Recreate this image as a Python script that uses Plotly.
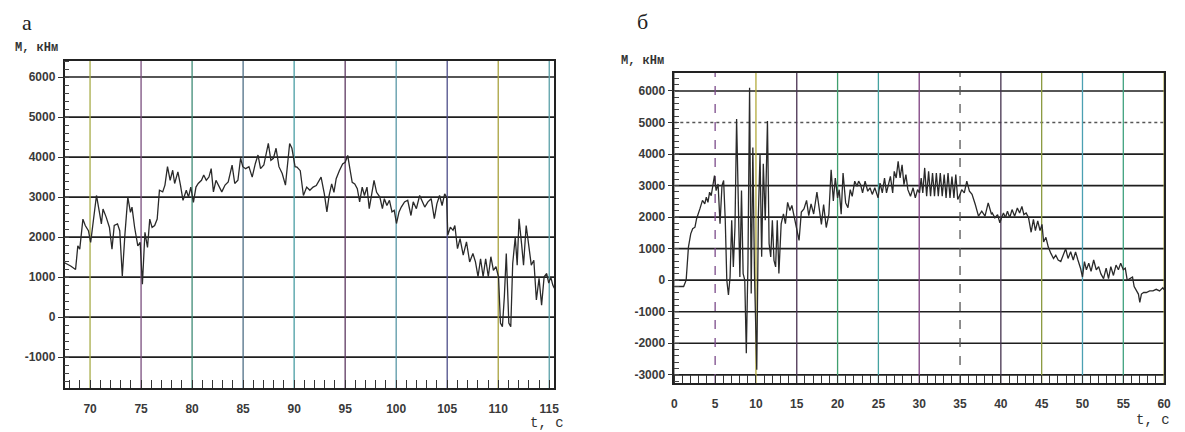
import plotly.graph_objects as go

# ---------------- data: chart "а" ----------------
t_a = [67.5, 68.10, 68.58, 68.80, 68.99, 69.30, 69.53, 69.84, 70.06, 70.32, 70.63, 70.89, 71.11, 71.27,
       71.58, 71.90, 72.15, 72.37, 72.69, 72.91, 73.16, 73.42, 73.70, 73.96, 74.11, 74.37, 74.68,
       74.91, 75.13, 75.38, 75.63, 75.85, 76.08, 76.33, 76.58, 76.80, 77.12, 77.34, 77.59, 77.85,
       78.10, 78.29, 78.61, 78.86, 79.11, 79.43, 79.65, 79.87, 80.13, 80.38, 80.60, 80.92, 81.14,
       81.39, 81.65, 81.87, 82.09, 82.34, 82.59, 82.91, 83.23, 83.54, 83.92, 84.18, 84.49, 84.75,
       84.97, 85.25, 85.57, 85.89, 86.20, 86.46, 86.71, 87.03, 87.47, 87.72, 87.97, 88.23, 88.51,
       88.83, 89.15, 89.56, 89.78, 90.09, 90.28, 90.60, 90.91, 91.23, 91.54, 91.86, 92.17, 92.48,
       92.64, 92.96, 93.21, 93.43, 93.68, 93.90, 94.12, 94.43, 94.75, 95.00, 95.25, 95.47, 95.69,
       95.94, 96.19, 96.42, 96.67, 96.89, 97.14, 97.36, 97.58, 97.83, 98.08, 98.40, 98.65, 98.84,
       99.09, 99.34, 99.59, 99.81, 100.03, 100.28, 100.50, 100.82, 101.13, 101.45, 101.67, 101.98,
       102.30, 102.55, 102.80, 103.11, 103.43, 103.74, 103.99, 104.25, 104.50, 104.75, 104.94,
       105.06, 105.31, 105.57, 105.75, 106.01, 106.26, 106.57, 106.89, 107.20, 107.52, 107.77,
       108.02, 108.27, 108.52, 108.77, 109.03, 109.28, 109.53, 109.78, 110.03, 110.22, 110.41,
       110.60, 110.79, 111.04, 111.23, 111.42, 111.67, 111.86, 112.04, 112.30, 112.48, 112.74,
       112.99, 113.24, 113.49, 113.74, 114.00, 114.25, 114.50, 114.75, 114.95, 115.15, 115.35, 115.5]
m_a = [1360, 1280, 1190, 1780, 1700, 2450, 2290, 2160, 1870, 2410, 3040, 2660, 2330, 2700,
       2500, 2240, 1700, 2290, 2330, 2160, 1030, 2080, 3000, 2620, 2750, 2240, 1780,
       1870, 820, 2120, 1740, 2450, 2240, 2290, 2450, 3170, 3130, 3300, 3760, 3420,
       3670, 3340, 3630, 3300, 2920, 3170, 3000, 3250, 2870, 3250, 3340, 3420, 3550,
       3420, 3500, 3710, 3130, 3420, 3300, 3130, 3300, 3380, 3800, 3340, 3420, 3970,
       3760, 3710, 3760, 3500, 3840, 4050, 3710, 3800, 4340, 3920, 3970, 4220, 3760,
       3590, 3300, 4340, 4220, 3760, 3750, 3660, 3040, 3250, 3170, 3250, 3290, 3420,
       3500, 3080, 2630, 3040, 3330, 3120, 3460, 3660, 3830, 3870, 4040, 3700, 3370,
       3330, 3210, 2880, 3250, 3040, 3250, 2710, 3080, 3420, 3120, 3000, 2710, 2960,
       2790, 2920, 2630, 2670, 2340, 2630, 2750, 2880, 2920, 2540, 2880, 2710,
       3040, 2880, 2750, 2880, 2960, 2460, 2830, 3040, 2790, 3080, 3000,
       2050, 2250, 2170, 2290, 1710, 1960, 1550, 1880, 1380, 1590, 1380,
       1010, 1460, 1010, 1460, 1010, 1510, 1170, 1260, 1010, -150, -240,
       510, 1590, -150, -240, 1340, 2000, 1300, 2460, 1800, 1300, 2290,
       1840, 1300, 1420, 430, 970, 300, 1010, 1090, 850, 1000, 800, 720]

# ---------------- data: chart "б" ----------------
t_b = [0.0, 1.14, 1.45, 1.73, 2.01, 2.25, 2.53, 2.73, 3.13, 3.45, 3.73, 3.92, 4.12, 4.32, 4.52,
       4.72, 4.92, 5.12, 5.36, 5.60, 5.84, 6.04, 6.24, 6.43, 6.63, 6.83, 7.03, 7.23, 7.43,
       7.63, 7.83, 8.03, 8.23, 8.43, 8.63, 8.82, 9.02, 9.22, 9.42, 9.62, 9.82, 10.10, 10.30,
       10.50, 10.70, 10.90, 11.14, 11.41, 11.61, 11.81, 12.01, 12.21, 12.41, 12.61, 12.81,
       13.09, 13.37, 13.61, 13.88, 14.16, 14.40, 14.68, 15.00, 15.28, 15.56, 15.88, 16.20,
       16.47, 16.75, 17.07, 17.47, 17.75, 18.02, 18.29, 18.61, 18.93, 19.21, 19.48, 19.72,
       20.00, 20.20, 20.44, 20.67, 20.99, 21.27, 21.55, 21.79, 22.10, 22.38, 22.58, 22.82,
       23.06, 23.37, 23.69, 23.97, 24.25, 24.56, 24.96, 25.20, 25.48, 25.75, 25.99, 26.23,
       26.47, 26.75, 26.94, 27.18, 27.42, 27.66, 27.90, 28.13, 28.37, 28.61, 28.93, 29.25,
       29.52, 29.80, 30.04, 30.24, 30.44, 30.67, 30.91, 31.15, 31.39, 31.63, 31.87, 32.10,
       32.34, 32.58, 32.82, 33.06, 33.29, 33.53, 33.77, 34.01, 34.25, 34.48, 34.72, 35.00,
       35.20, 35.52, 35.83, 36.15, 36.47, 36.87, 37.26, 37.66, 38.06, 38.45, 38.85, 38.95,
       39.27, 39.60, 39.88, 40.08, 40.32, 40.56, 40.81, 41.09, 41.37, 41.69, 42.02, 42.30,
       42.58, 42.82, 43.10, 43.39, 43.71, 43.99, 44.23, 44.52, 44.80, 45.04, 45.24, 45.52,
       45.81, 46.13, 46.45, 46.73, 47.02, 47.34, 47.66, 47.94, 48.23, 48.55, 48.87, 49.15,
       49.44, 49.76, 50.00, 50.24, 50.48, 50.77, 51.05, 51.37, 51.69, 51.98, 52.26, 52.58,
       52.90, 53.19, 53.47, 53.79, 54.11, 54.40, 54.68, 55.00, 55.24, 55.48, 55.81, 56.13,
       56.33, 56.61, 56.85, 57.02, 57.22, 57.50, 57.82, 58.23, 58.63, 59.03, 59.44, 59.84, 60.0]
m_b = [-200, -200, 0, 1050, 1470, 1630, 1680, 1950, 2260, 2530, 2420, 2630, 2470, 2790, 2680,
       3050, 3320, 2840, 3050, 1790, 3000, 3160, 1900, 0, -470, 100, 1900, 420, 1680,
       5110, 1900, 100, 2840, 210, 0, -2320, 530, 6100, -420, 4210, 210, -2840, 2100,
       4000, 740, 3690, 1900, 5050, 1160, 740, 1900, 630, 420, 1900, 210,
       1790, 2100, 1790, 2470, 2210, 2370, 2000, 1580, 1260, 2160, 2260, 2530,
       2050, 2420, 2100, 2790, 2320, 1770, 2400, 1670, 2090, 3500, 2510, 3240,
       2610, 2870, 2090, 3400, 2450, 2300, 2870, 2660, 3140, 2980, 3140, 3030,
       2770, 3140, 2820, 2930, 2720, 2930, 2610, 3080, 2770, 3240, 2770, 3080,
       3290, 2770, 3450, 3240, 3770, 3240, 3660, 3030, 3350, 2870, 2660, 2930,
       2610, 2870, 2770, 3240, 2770, 3560, 2660, 3450, 2660, 3400, 2660, 3400,
       2660, 3400, 2660, 3350, 2610, 3400, 2610, 3290, 2610, 3350, 2560, 2720,
       2870, 2770, 3140, 2820, 2720, 2400, 2030, 2190, 2030, 2450, 2090, 2130,
       1980, 2080, 1820, 1980, 2130, 1980, 2190, 1980, 2240, 2030, 2290, 2130,
       2340, 2080, 2130, 1980, 1520, 1930, 1570, 1880, 1570, 1770, 1210, 1360,
       1050, 850, 690, 790, 640, 590, 790, 1000, 690, 900, 640, 900,
       640, 380, 100, 590, 330, 540, 280, 640, 330, 430, 200, 50,
       380, 50, 430, 150, 480, 330, 540, 330, 380, 0, 50, 100,
       -200, -340, -440, -700, -440, -390, -390, -340, -340, -290, -340, -240, -300]

# ---------------- axes / tick labels ----------------
xticks_a = [70, 75, 80, 85, 90, 95, 100, 105, 110, 115]
yticks_a = [-1000, 0, 1000, 2000, 3000, 4000, 5000, 6000]
xticks_b = [0, 5, 10, 15, 20, 25, 30, 35, 40, 45, 50, 55, 60]
yticks_b = [-3000, -2000, -1000, 0, 1000, 2000, 3000, 4000, 5000, 6000]
xrange_a = [67.5, 115.5]
yrange_a = [-1770, 6400]
xrange_b = [0, 60]
yrange_b = [-3260, 6570]

# scanned-look tints for vertical grid lines
vcol_a = ["#a8ad4a", "#7a4f7e", "#3f8c76", "#4f6f86", "#4a9ea4", "#5e3a62", "#5a98a6", "#4f4f8a", "#a9a23e", "#5aa0a8"]
vcol_b = ["#777", "#7c4b8a", "#b3ab3c", "#4a3252", "#3f9f6e", "#44a2a0", "#7e3f80", "#555", "#45334f",
          "#8b9a3f", "#4ba0b2", "#3fa27f", "#aaa344"]
vdash_b = ["solid", "dash", "solid", "solid", "solid", "solid", "solid", "dash", "solid",
           "solid", "solid", "solid", "solid"]

# page body has an 8px margin: figure is sized/positioned to compensate
W, H, OFF = 1177, 424, 8
def px(x):
    return (x - OFF) / W
def py(y):
    return 1 - (y - OFF) / H

fig = go.Figure()

fig.add_trace(go.Scatter(x=t_a, y=m_a, mode="lines", xaxis="x", yaxis="y",
                         line=dict(color="#2a2a2a", width=1.3), showlegend=False, hoverinfo="skip"))
fig.add_trace(go.Scatter(x=t_b, y=m_b, mode="lines", xaxis="x2", yaxis="y2",
                         line=dict(color="#2a2a2a", width=1.3), showlegend=False, hoverinfo="skip"))

shapes = []
for v in yticks_a:
    shapes.append(dict(type="line", xref="x domain", yref="y", x0=0, x1=1, y0=v, y1=v,
                       line=dict(color="#1e1e1e", width=1.7), layer="below"))
for v, c in zip(xticks_a, vcol_a):
    shapes.append(dict(type="line", xref="x", yref="y domain", x0=v, x1=v, y0=0, y1=1,
                       line=dict(color=c, width=1.3), layer="below"))
for v in yticks_b:
    dotted = (v == 5000)
    shapes.append(dict(type="line", xref="x2 domain", yref="y2", x0=0, x1=1, y0=v, y1=v,
                       line=dict(color="#555" if dotted else "#1e1e1e", width=1.3 if dotted else 1.7,
                                 dash="dot" if dotted else "solid"), layer="below"))
for v, c, d in zip(xticks_b, vcol_b, vdash_b):
    shapes.append(dict(type="line", xref="x2", yref="y2 domain", x0=v, x1=v, y0=0, y1=1,
                       line=dict(color=c, width=1.3, dash=d), layer="below"))

tickfont = dict(family="Liberation Sans, Arial, sans-serif", size=12, color="#3a3a3a", weight="bold")

def xaxis_cfg(domain, rng, ticks, anchor):
    return dict(domain=domain, range=rng, tickvals=ticks, ticktext=[str(t) for t in ticks],
                showgrid=False, zeroline=False, showline=True, linecolor="#222", linewidth=1.5,
                mirror=True, ticks="", tickfont=tickfont, ticklabelstandoff=9, anchor=anchor,
                minor=dict(dtick=1, ticks="inside", ticklen=8, tickcolor="#333", tickwidth=1,
                           showgrid=False))

def yaxis_cfg(domain, rng, ticks, anchor):
    return dict(domain=domain, range=rng, tickvals=ticks, ticktext=[str(t) for t in ticks],
                showgrid=False, zeroline=False, showline=True, linecolor="#222", linewidth=1.5,
                mirror=True, ticks="outside", ticklen=5, tickcolor="#333", tickwidth=1.2,
                tickfont=tickfont, anchor=anchor,
                minor=dict(dtick=200, ticks="inside", ticklen=5, tickcolor="#444", tickwidth=1,
                           showgrid=False))

fig.update_layout(
    width=W, height=H,
    margin=dict(l=0, r=0, t=0, b=0),
    paper_bgcolor="white", plot_bgcolor="white",
    xaxis=xaxis_cfg([px(62), px(556)], xrange_a, xticks_a, "y"),
    yaxis=yaxis_cfg([py(388), py(61)], yrange_a, yticks_a, "x"),
    xaxis2=xaxis_cfg([px(677), px(1171)], xrange_b, xticks_b, "y2"),
    yaxis2=yaxis_cfg([py(383), py(73)], yrange_b, yticks_b, "x2"),
    shapes=shapes,
)

ann = []
serif = "Liberation Serif, Times New Roman, serif"
mono = "Liberation Mono, Courier New, monospace"
ann.append(dict(text="а", x=px(24), y=py(22), font=dict(family=serif, size=22, color="#222")))
ann.append(dict(text="б", x=px(645), y=py(21), font=dict(family=serif, size=22, color="#222")))
ann.append(dict(text="<b>M, кНм</b>", x=px(34), y=py(48), font=dict(family=mono, size=12, color="#333")))
ann.append(dict(text="<b>M, кНм</b>", x=px(645), y=py(61), font=dict(family=mono, size=12, color="#333")))
ann.append(dict(text="t, с", x=px(549), y=py(423), font=dict(family=mono, size=14, color="#333")))
ann.append(dict(text="t, с", x=px(1160), y=py(420), font=dict(family=mono, size=14, color="#333")))
for a in ann:
    a.update(xref="paper", yref="paper", showarrow=False, xanchor="center", yanchor="middle")
fig.update_layout(annotations=ann)

fig.write_html("out.html")
